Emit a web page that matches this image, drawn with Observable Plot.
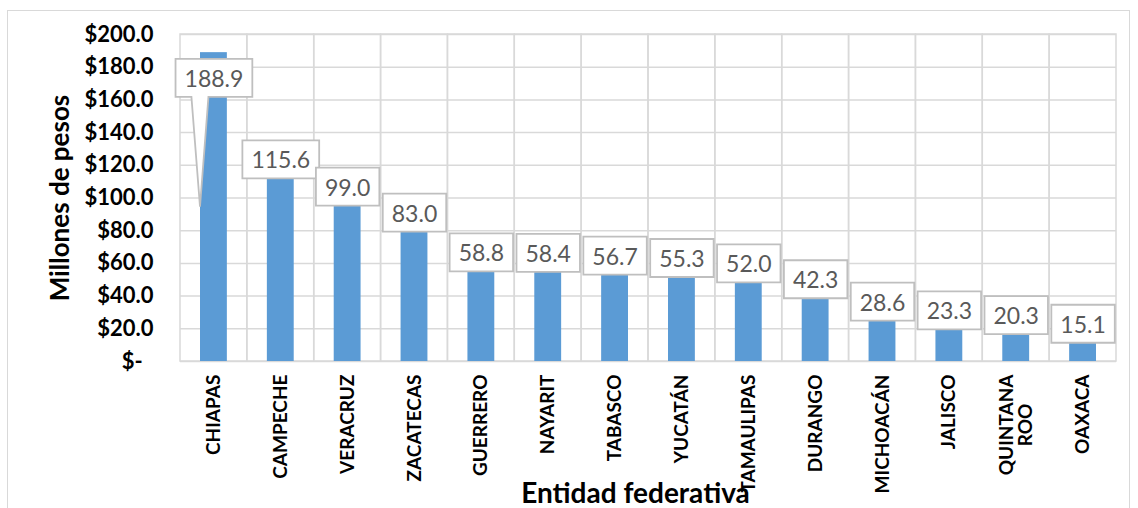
<!DOCTYPE html>
<html><head><meta charset="utf-8">
<script src="https://cdn.jsdelivr.net/npm/d3@7"></script>
<script src="https://cdn.jsdelivr.net/npm/@observablehq/plot@0.6"></script>
<style>
body{margin:0;background:#fff;}
#wrap{position:relative;width:1138px;height:508px;overflow:hidden;}
#border{position:absolute;left:7px;top:10px;width:1123px;height:520px;border:1.5px solid #d9d9d9;box-sizing:border-box;}
#wrap svg{position:absolute;left:0;top:0;}
</style></head><body><div id="wrap"><div id="border"></div></div>
<script>
const estados = ["CHIAPAS","CAMPECHE","VERACRUZ","ZACATECAS","GUERRERO","NAYARIT","TABASCO","YUCATÁN","TAMAULIPAS","DURANGO","MICHOACÁN","JALISCO","QUINTANA ROO","OAXACA"];
const montos = [188.9,115.6,99.0,83.0,58.8,58.4,56.7,55.3,52.0,42.3,28.6,23.3,20.3,15.1];
const yTicks = [0,20,40,60,80,100,120,140,160,180,200];
const yTitle = "Millones de pesos";
const xTitle = "Entidad federativa";

const data = estados.map((e,i)=>({estado:e, monto:montos[i]}));
const labelOffset = 7, labelCap = 172.5;
const labelY = d => Math.min(d.monto + labelOffset, labelCap);

const plot = Plot.plot({
  width:1138, height:508, marginLeft:180, marginRight:22, marginTop:34, marginBottom:147,
  style:{fontFamily:"Lato, sans-serif", background:"transparent", overflow:"visible"},
  x:{domain:estados, padding:0, round:false, label:null},
  y:{domain:[0,200], label:null},
  marks:[
    Plot.rect(estados, {x:d=>d, y1:0, y2:200, fill:"none", stroke:"#d9d9d9", strokeWidth:1.5}),
    Plot.gridY(yTicks, {stroke:"#d9d9d9", strokeOpacity:1, strokeWidth:1.5}),
    Plot.barY(data, {x:"estado", y:"monto", fill:"#5b9bd5", insetLeft:20, insetRight:20}),
    Plot.axisY(yTicks, {tickSize:0, tickPadding:27, fontSize:22, fontWeight:"bold", fill:"#000", label:null,
      tickFormat:d => d===0 ? "$-\u00a0\u00a0" : "$" + d.toFixed(1)}),
    Plot.axisX({tickSize:0, tickRotate:-90, tickPadding:13, fontSize:19, fontWeight:"bold", fill:"#000", label:null,
      tickFormat:d => d.replace(" ","\n")}),
    Plot.text([yTitle], {frameAnchor:"left", rotate:-90, dx:-120, textAnchor:"middle", fontSize:26, fontWeight:"bold", fill:"#000"}),
    Plot.text([xTitle], {frameAnchor:"bottom", dy:133, dx:-13, lineAnchor:"middle", fontSize:28, fontWeight:"bold", fill:"#000"}),
    Plot.text(data, {x:"estado", y:labelY, text:d=>d.monto.toFixed(1), fontSize:23, fill:"#595959"})
  ]
});
document.getElementById("wrap").append(plot);

// center the lines of wrapped tick labels
plot.querySelectorAll("text").forEach(t => {
  const sp = t.querySelectorAll("tspan");
  if (sp.length === 2) {
    const l0 = sp[0].getComputedTextLength(), l1 = sp[1].getComputedTextLength();
    sp[1].setAttribute("x", -(l0 - l1) / 2);
  }
});

const xs = plot.scale("x"), ys = plot.scale("y");
const groups = plot.querySelectorAll('g[aria-label="text"]');
const g = groups[groups.length - 1];
const ns = "http://www.w3.org/2000/svg";
const boxes = document.createElementNS(ns, "g");
g.parentNode.insertBefore(boxes, g);
const svgRect = plot.getBoundingClientRect();
g.querySelectorAll("text").forEach((t,i)=>{
  const r = t.getBoundingClientRect();
  const bx = r.left - svgRect.left, by = r.top - svgRect.top;
  const cx = bx + r.width/2, cy = by + r.height/2;
  const w = r.width + 18, h = 38;
  const L = cx - w/2, R = cx + w/2, T = cy - h/2, B = cy + h/2;
  const d = data[i];
  const path = document.createElementNS(ns,"path");
  let p;
  if (d.monto + labelOffset > labelCap) {
    const tipX = xs.apply(d.estado) + 20;
    const tipY = ys.apply(d.monto/2);
    p = `M${L},${T}H${R}V${B}H${cx-5.5}L${tipX},${tipY}L${cx-22.5},${B}H${L}Z`;
  } else {
    p = `M${L},${T}H${R}V${B}H${L}Z`;
  }
  path.setAttribute("d", p);
  path.setAttribute("fill","#fff");
  path.setAttribute("stroke","#bfbfbf");
  path.setAttribute("stroke-width","1.8");
  boxes.appendChild(path);
});
</script></body></html>
